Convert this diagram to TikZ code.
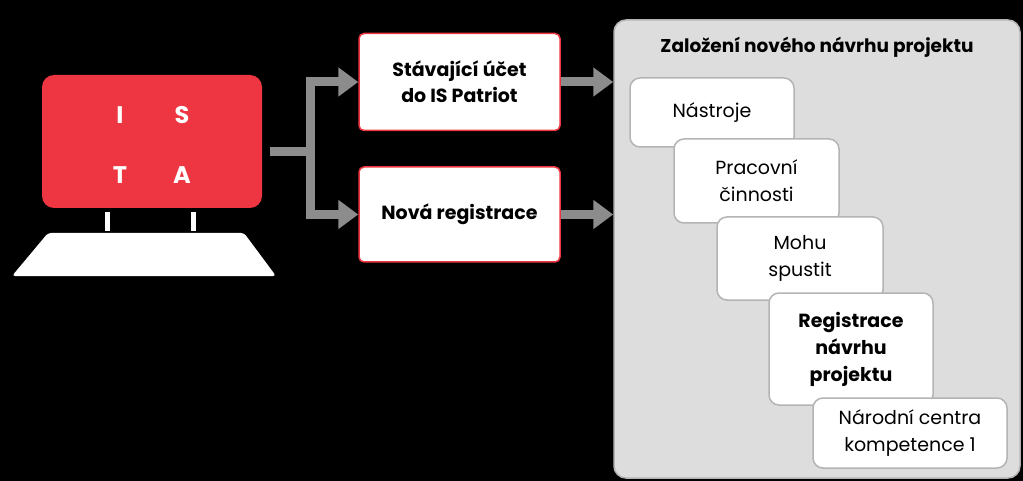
\documentclass[tikz,border=0pt]{standalone}
\usepackage{fontspec}
\setmainfont{Poppins}
\usetikzlibrary{arrows.meta}
\definecolor{istared}{HTML}{EE3542}
\definecolor{arrowgray}{HTML}{8C8C8C}
\definecolor{panelgray}{HTML}{DDDDDE}
\definecolor{boxgray}{HTML}{B4B4B4}
\tikzset{
  px/.style={x=1pt,y=-1pt},
  redbox/.style={draw=istared,line width=1.5pt,fill=white,rounded corners=5pt,align=center,font=\fontsize{19}{26}\selectfont\bfseries},
  stepbox/.style={draw=boxgray,line width=1.5pt,fill=white,rounded corners=10pt,align=center,font=\fontsize{19}{27}\selectfont},
  garrow/.style={arrowgray,line width=9pt,-{Triangle[length=20pt,width=28pt]}},
  letter/.style={text=white,font=\fontsize{24}{26}\selectfont\bfseries}
}
\begin{document}
\begin{tikzpicture}[px]
\fill[black] (0,0) rectangle (1023,481);
\useasboundingbox (0,0) rectangle (1023,481);
% monitor
\node[fill=istared,rounded corners=12pt,minimum width=220pt,minimum height=133pt,inner sep=0] (screen) at (152,141.5) {};
\node[letter] (l1) at (120,115) {I};
\node[letter] (l2) at (182,115) {S};
\node[letter] (l3) at (120,175) {T};
\node[letter] (l4) at (182,175) {A};
\fill[white] (104.5,212) rectangle (110,231);
\fill[white] (190.5,212) rectangle (196,231);
\fill[white,rounded corners=3pt] (12,276) -- (48,233) -- (244,233) -- (276,276) -- cycle;
\coordinate (stem) at (270,152);
\coordinate (split) at (310,152);
% boxes
\node[redbox,minimum width=201pt,minimum height=97pt] (acc) at (459.5,82) {Stávající účet\\do IS Patriot};
\node[redbox,minimum width=201pt,minimum height=95pt] (reg) at (459.5,214.5) {Nová registrace};
\draw[arrowgray,line width=9pt] (stem) -- (split);
\draw[garrow] (310,156) |- (acc.west);
\draw[garrow] (310,148) |- (reg.west);
% panel
\node[draw=boxgray,fill=panelgray,line width=1.5pt,rounded corners=12pt,minimum width=406pt,minimum height=458pt,inner sep=0] (panel) at (817,249) {};
\node[font=\fontsize{18.5}{22}\selectfont\bfseries] (title) at (817,47) {Založení nového návrhu projektu};
\draw[garrow] (acc.east) -- (acc.east -| panel.west);
\draw[garrow] (reg.east) -- (reg.east -| panel.west);
\node[stepbox,minimum width=164pt,minimum height=69pt] (s1) at (712,112.5) {Nástroje};
\node[stepbox,minimum width=165pt,minimum height=84pt] (s2) at (756.5,181) {Pracovní\\činnosti};
\node[stepbox,minimum width=166pt,minimum height=83pt] (s3) at (800,258.5) {Mohu\\spustit};
\node[stepbox,minimum width=164pt,minimum height=112pt,font=\fontsize{19}{27}\selectfont\bfseries] (s4) at (851,349) {Registrace\\návrhu\\projektu};
\node[stepbox,minimum width=194pt,minimum height=70pt] (s5) at (910,433) {Národní centra\\kompetence 1};
\end{tikzpicture}
\end{document}
